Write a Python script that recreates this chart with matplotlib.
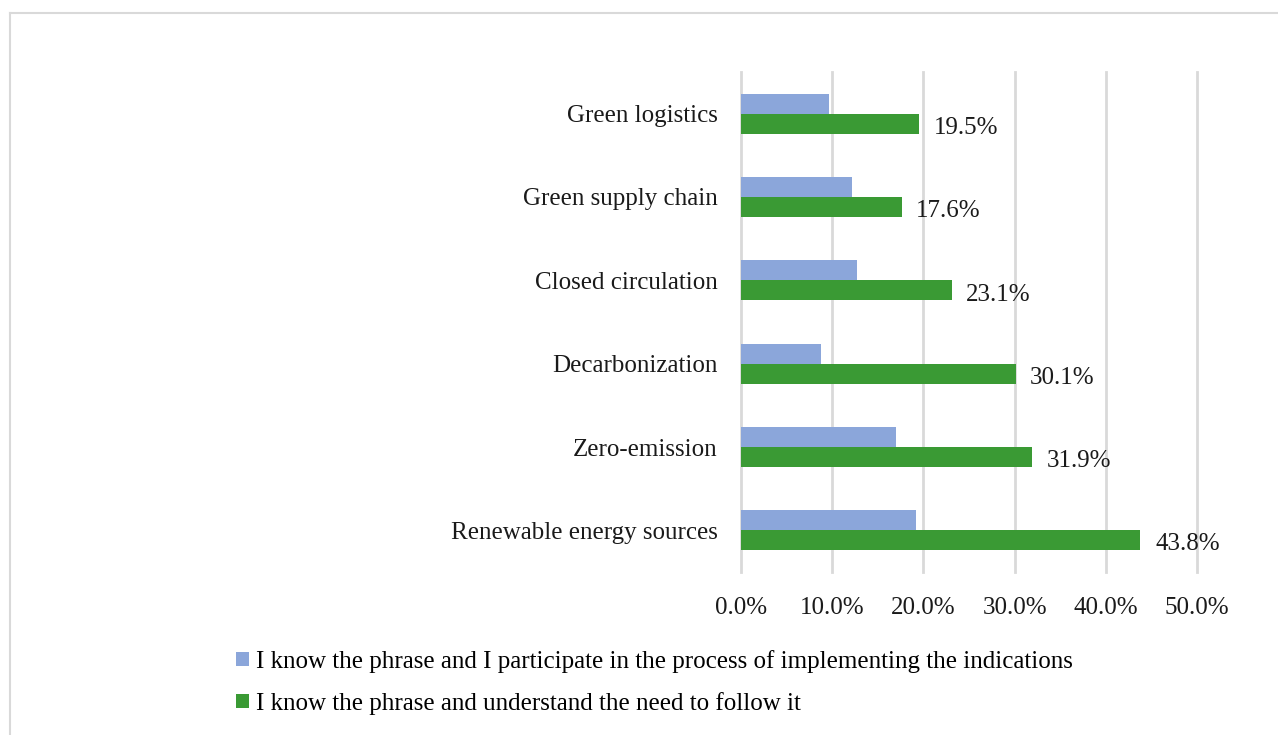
import matplotlib
matplotlib.use("Agg")
import matplotlib.pyplot as plt
import numpy as np
from matplotlib.lines import Line2D
from matplotlib.patches import Patch

categories = [
    "Renewable energy sources",
    "Zero-emission",
    "Decarbonization",
    "Closed circulation",
    "Green supply chain",
    "Green logistics",
]
participate = [19.2, 17.0, 8.8, 12.7, 12.2, 9.7]
understand = [43.8, 31.9, 30.1, 23.1, 17.6, 19.5]
series_names = [
    "I know the phrase and I participate in the process of implementing the indications",
    "I know the phrase and understand the need to follow it",
]
xticks = [0, 10, 20, 30, 40, 50]

BLUE = "#8BA6DA"
GREEN = "#3A9A34"
GRID = "#D9D9D9"

plt.rcParams["font.family"] = ["Liberation Serif", "DejaVu Serif"]
FS = 18

W, H = 1278, 735
fig = plt.figure(figsize=(W / 100, H / 100), dpi=100)

# axes placed in pixel units
x0, x1 = 741, 1197
y0, y1 = 72, 572
ax = fig.add_axes([x0 / W, 1 - y1 / H, (x1 - x0) / W, (y1 - y0) / H])

y = np.arange(len(categories))
h = 0.24
ax.barh(y + h / 2, participate, height=h, color=BLUE, zorder=3)
ax.barh(y - h / 2, understand, height=h, color=GREEN, zorder=3)

for yi, v in zip(y, understand):
    ax.text(v + 1.6, yi - h / 2 - 0.05, f"{v:.1f}%", va="center", ha="left",
            fontsize=FS, color="#1a1a1a")

ax.set_xlim(0, 50)
ax.set_ylim(-0.5, len(categories) - 0.5)
ax.set_xticks(xticks)
ax.set_xticklabels([f"{t:.1f}%" for t in xticks], fontsize=FS, color="#1a1a1a")
ax.set_yticks(y)
ax.set_yticklabels(categories, fontsize=FS, color="#1a1a1a")
ax.tick_params(axis="both", length=0)
ax.tick_params(axis="x", pad=18)
ax.tick_params(axis="y", pad=17)
ax.xaxis.grid(True, color=GRID, linewidth=2, zorder=0)
for gl in ax.get_xgridlines():
    gl.set_clip_on(False)
for s in ax.spines.values():
    s.set_visible(False)

# legend rows under the plot
handles = [Patch(facecolor=BLUE), Patch(facecolor=GREEN)]
fig.legend(handles, series_names, loc="upper left",
           bbox_to_anchor=(226 / W, 1 - 640 / H), frameon=False,
           fontsize=FS, handlelength=0.5, handleheight=0.5,
           handletextpad=0.3, labelspacing=0.75, borderaxespad=0)

# light frame along top and left edges
fig.add_artist(Line2D([10 / W, 1], [1 - 13 / H, 1 - 13 / H], color=GRID,
                      linewidth=1.5, transform=fig.transFigure))
fig.add_artist(Line2D([10 / W, 10 / W], [0, 1 - 13 / H], color=GRID,
                      linewidth=1.5, transform=fig.transFigure))

fig.savefig("out.png", dpi=100)
